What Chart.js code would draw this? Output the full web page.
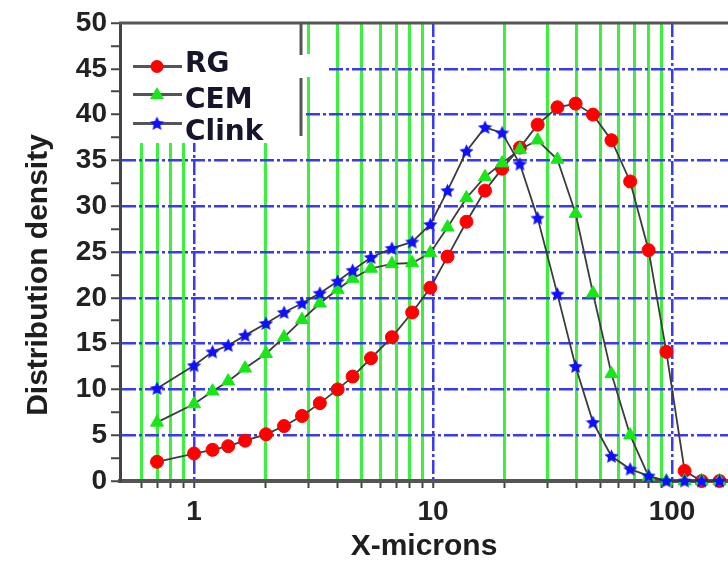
<!DOCTYPE html>
<html>
<head>
<meta charset="utf-8">
<script src="https://cdn.jsdelivr.net/npm/chart.js@4.4.1/dist/chart.umd.min.js"></script>
<style>
  html, body { margin: 0; padding: 0; background: #fff; }
  canvas { display: block; }
</style>
</head>
<body>
<canvas id="grafico" width="728" height="562"></canvas>
<script>
// Datos (eje X logaritmico)
var xMicrons = [0.7, 1.0, 1.195, 1.39, 1.635, 2.0, 2.38, 2.83, 3.36, 3.99, 4.61, 5.5, 6.73, 8.18, 9.74,
                11.5, 13.8, 16.5, 19.45, 23.1, 27.4, 33.15, 39.5, 46.7, 55.8, 66.8, 79.8, 94.7, 112.9, 133, 158];
var rgValues = [2.1, 3.0, 3.4, 3.8, 4.4, 5.1, 6.0, 7.1, 8.5, 10.0, 11.4, 13.4, 15.7, 18.4, 21.1,
                24.5, 28.3, 31.7, 34.1, 36.4, 38.9, 40.8, 41.2, 40.0, 37.2, 32.7, 25.2, 14.1, 1.1, 0, 0];
var cemValues = [6.4, 8.4, 9.8, 10.9, 12.3, 13.9, 15.7, 17.6, 19.4, 20.9, 22.1, 23.2, 23.7, 23.8, 24.9,
                 27.7, 30.9, 33.2, 34.7, 36.2, 37.2, 35.1, 29.2, 20.5, 11.7, 5.0, 0.5, 0, 0, 0, 0];
var clinkValues = [10.1, 12.6, 14.1, 14.8, 15.9, 17.2, 18.4, 19.4, 20.5, 21.8, 23.0, 24.4, 25.4, 26.1, 28.0,
                   31.7, 36.0, 38.6, 38.0, 34.6, 28.7, 20.4, 12.5, 6.4, 2.7, 1.3, 0.55, 0, 0, 0, 0];

var seriesNames = ['RG', 'CEM', 'Clink'];
var xTickValues = [0.6, 0.7, 0.8, 0.9, 1, 2, 3, 4, 5, 6, 7, 8, 9, 10, 20, 30, 40, 50, 60, 70, 80, 90, 100];
var xTickLabels = [1, 10, 100];
var xMin = 0.49, xMax = 171.5;
var yMin = 0, yMax = 50, yStep = 2.5, yLabelStep = 5;

// colores
var rojo = '#ff0000';
var verde = '#19e619';
var azul = '#1010ff';
var lineaGris = '#3c3c3c';
var verdeGrid = '#3ef03e';
var azulGrid = '#3a3af2';
var guion = [14, 3, 3, 3];

function esMayor(v) {
    return xTickLabels.indexOf(v) >= 0;
}

// estrella rellena para Clink (Chart.js no trae una)
function hacerEstrella(color, size) {
    var c = document.createElement('canvas');
    c.width = size; c.height = size;
    var g = c.getContext('2d');
    var cx = size / 2, cy = size / 2 + 0.5, R = size / 2, r = R * 0.48;
    g.beginPath();
    for (var i = 0; i < 10; i++) {
        var ang = -Math.PI / 2 + i * Math.PI / 5;
        var rad = (i % 2 === 0) ? R : r;
        g.lineTo(cx + rad * Math.cos(ang), cy + rad * Math.sin(ang));
    }
    g.closePath();
    g.fillStyle = color;
    g.fill();
    return c;
}
var estrella = hacerEstrella(azul, 15);

function puntos(valores) {
    return xMicrons.map(function(x, i) { return { x: x, y: valores[i] }; });
}

var datasets = [
    {
        label: seriesNames[0], data: puntos(rgValues), order: 3,
        borderColor: lineaGris, borderWidth: 1.8, tension: 0, clip: false,
        pointStyle: 'circle', pointRadius: 6.5,
        pointBackgroundColor: rojo, pointBorderColor: rojo, pointBorderWidth: 1
    },
    {
        label: seriesNames[1], data: puntos(cemValues), order: 2,
        borderColor: lineaGris, borderWidth: 1.8, tension: 0, clip: false,
        pointStyle: 'triangle', pointRadius: 7.5,
        pointBackgroundColor: verde, pointBorderColor: verde, pointBorderWidth: 1
    },
    {
        label: seriesNames[2], data: puntos(clinkValues), order: 1,
        borderColor: lineaGris, borderWidth: 1.8, tension: 0, clip: false,
        pointStyle: estrella, pointRadius: 7,
        pointBackgroundColor: azul, pointBorderColor: azul
    }
];

var fuenteEje = '"Liberation Sans", Arial, sans-serif';

// Leyenda dentro del area, marco superior y titulos de ejes
var adornos = {
    id: 'adornos',
    beforeDraw: function(chart) {
        var ctx = chart.ctx;
        ctx.save();
        ctx.fillStyle = '#fff';
        ctx.fillRect(0, 0, chart.width, chart.height);
        ctx.restore();
    },
    afterDatasetsDraw: function(chart) {
        var ctx = chart.ctx, a = chart.chartArea;
        ctx.save();
        // caja blanca de la leyenda
        ctx.fillStyle = '#fff';
        ctx.fillRect(a.left + 2, a.top, 303 - a.left - 2, 143 - a.top);
        ctx.fillRect(300, 54, 26, 23);
        // borde derecho de la caja (con su hueco)
        ctx.strokeStyle = '#555';
        ctx.lineWidth = 3;
        ctx.beginPath();
        ctx.moveTo(301, a.top); ctx.lineTo(301, 55);
        ctx.moveTo(301, 78); ctx.lineTo(301, 136);
        ctx.stroke();
        // marco superior
        ctx.strokeStyle = '#555';
        ctx.lineWidth = 3;
        ctx.beginPath();
        ctx.moveTo(a.left - 1, a.top); ctx.lineTo(a.right, a.top);
        ctx.stroke();

        // entradas
        var filas = [66.5, 94.5, 123.5];
        var bases = [72, 108, 140];
        chart.data.datasets.forEach(function(ds, i) {
            var y = filas[i];
            ctx.strokeStyle = '#555';
            ctx.lineWidth = 3;
            ctx.beginPath();
            ctx.moveTo(133, y); ctx.lineTo(182, y);
            ctx.stroke();
            if (ds.pointStyle === 'circle') {
                ctx.fillStyle = rojo;
                ctx.beginPath(); ctx.arc(157, y, 6.5, 0, Math.PI * 2); ctx.fill();
            } else if (ds.pointStyle === 'triangle') {
                ctx.fillStyle = verde;
                ctx.beginPath();
                ctx.moveTo(157, y - 7.5); ctx.lineTo(164, y + 4.5); ctx.lineTo(150, y + 4.5);
                ctx.closePath(); ctx.fill();
            } else {
                ctx.drawImage(estrella, 157 - estrella.width / 2, y - estrella.height / 2);
            }
            ctx.fillStyle = '#16162a';
            ctx.font = 'bold 28px "DejaVu Sans", Verdana, sans-serif';
            ctx.textAlign = 'left';
            ctx.textBaseline = 'alphabetic';
            ctx.fillText(ds.label, 185, bases[i]);
        });
        ctx.restore();
    },
    afterDraw: function(chart) {
        var ctx = chart.ctx, a = chart.chartArea;
        ctx.save();
        ctx.fillStyle = '#1e1e1e';
        ctx.font = 'bold 30px ' + fuenteEje;
        ctx.textAlign = 'center';
        ctx.textBaseline = 'alphabetic';
        ctx.fillText('X-microns', (a.left + a.right) / 2, 555);
        ctx.translate(47, 275);
        ctx.rotate(-Math.PI / 2);
        ctx.fillText('Distribution density', 0, 0);
        ctx.restore();
    }
};

var ctx = document.getElementById('grafico').getContext('2d');
var grafico = new Chart(ctx, {
    type: 'line',
    data: { datasets: datasets },
    options: {
        responsive: false,
        animation: false,
        devicePixelRatio: 1,
        layout: { autoPadding: false, padding: { top: 23, right: 0, bottom: 0, left: 0 } },
        plugins: {
            legend: { display: false },
            tooltip: { enabled: false }
        },
        scales: {
            x: {
                type: 'logarithmic',
                min: xMin,
                max: xMax,
                offset: false,
                afterBuildTicks: function(scale) {
                    scale.ticks = xTickValues.map(function(v) { return { value: v }; });
                },
                afterFit: function(scale) { scale.height = 81; },
                ticks: {
                    autoSkip: false,
                    maxRotation: 0,
                    padding: 7,
                    color: '#222',
                    font: { family: fuenteEje, size: 28, weight: 'bold' },
                    callback: function(v) { return esMayor(v) ? String(v) : ''; }
                },
                grid: {
                    color: function(c) { return esMayor(c.tick.value) ? azulGrid : verdeGrid; },
                    lineWidth: function(c) { return esMayor(c.tick.value) ? 2.5 : 3; },
                    drawTicks: true,
                    tickLength: 7,
                    tickColor: '#444',
                    tickWidth: 2
                },
                border: {
                    color: '#555',
                    width: 4,
                    dash: function(c) { return (c.tick && esMayor(c.tick.value)) ? guion : []; }
                }
            },
            y: {
                min: yMin,
                max: yMax,
                afterFit: function(scale) { scale.width = 120; },
                ticks: {
                    stepSize: yStep,
                    autoSkip: false,
                    padding: 4,
                    color: '#222',
                    font: { family: fuenteEje, size: 28, weight: 'bold' },
                    callback: function(v) { return (v % yLabelStep === 0) ? String(v) : ''; }
                },
                grid: {
                    color: function(c) {
                        var v = c.tick.value;
                        return (v % yLabelStep === 0 && v > yMin && v < yMax) ? azulGrid : 'rgba(0,0,0,0)';
                    },
                    lineWidth: 2.5,
                    drawTicks: true,
                    tickLength: 9,
                    tickColor: '#444',
                    tickWidth: 2
                },
                border: {
                    color: '#444',
                    width: 3,
                    dash: guion
                }
            }
        }
    },
    plugins: [adornos]
});
</script>
</body>
</html>
